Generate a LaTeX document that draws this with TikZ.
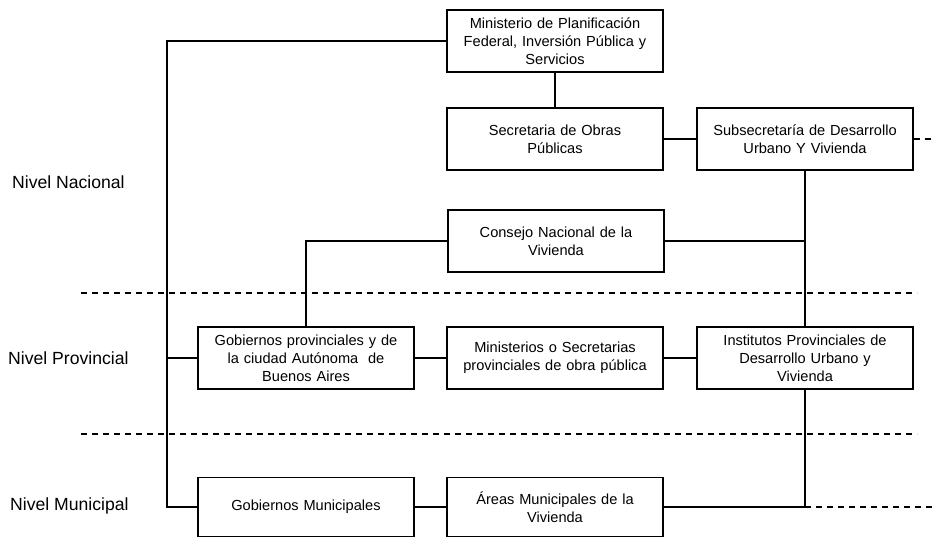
\documentclass[tikz,border=0pt]{standalone}
\usepackage{fontspec}
\setmainfont{Liberation Sans}
\usepackage{tikz}
\usetikzlibrary{positioning,calc}
\tikzset{box/.style={draw, line width=1.4pt, minimum width=216pt, minimum height=62pt, inner sep=2pt, align=center, text width=210pt, font=\fontsize{14.6pt}{18pt}\selectfont}}
\tikzset{level/.style={anchor=west, inner sep=0pt, font=\fontsize{17.6pt}{20pt}\selectfont}}
\tikzset{link/.style={line width=1.4pt}}
\tikzset{sep/.style={line width=1.3pt, dash pattern=on 6pt off 5pt}}

\begin{document}
\begin{tikzpicture}[x=1pt,y=-1pt]
\useasboundingbox (0,0) rectangle (933,538);
%niveles
\node[level] (nnac) at (12,182){Nivel Nacional};
\node[level] (nprov) at (8,358){Nivel Provincial};
\node[level] (nmun) at (10,506){Nivel Municipal};
%nivel nacional
\node[box] (minis) at (555,41){Ministerio de Planificación\\Federal, Inversión Pública y\\Servicios};
\node[box] (secobras) at (555,139){Secretaria de Obras\\Públicas};
\node[box] (subsec) at (805,139){Subsecretaría de Desarrollo\\Urbano Y Vivienda};
\node[box] (consejo) at (556,241){Consejo Nacional de la\\Vivienda};
%nivel provincial
\node[box] (gobprov) at (306,358){Gobiernos provinciales y de\\la ciudad Autónoma\ \ de\\Buenos Aires};
\node[box] (minprov) at (555,358){Ministerios o Secretarias\\provinciales de obra pública};
\node[box] (inst) at (805,358){Institutos Provinciales de\\Desarrollo Urbano y\\Vivienda};
%nivel municipal
\node[box, minimum height=59pt] (gobmun) at (306,507){Gobiernos Municipales};
\node[box, minimum height=59pt] (areas) at (555,507){Áreas Municipales de la\\Vivienda};

\coordinate (ltop) at (167,41);
\coordinate (lbot) at (167,507);
\coordinate (rbot) at (805,507);
\coordinate (subend) at (933,139);
\coordinate (munend) at (933,507);
\coordinate (d1a) at (81,293);
\coordinate (d1b) at (917,293);
\coordinate (d2a) at (81,434);
\coordinate (d2b) at (917,434);

\draw[sep] (d1a)--(d1b);
\draw[sep] (d2a)--(d2b);

\draw[link] (minis.west)--(ltop)--(lbot)--(gobmun.west);
\draw[link] (gobprov.west)--(gobprov.west -| ltop);
\draw[link] (minis)--(secobras);
\draw[link] (secobras)--(subsec);
\draw[sep] (subsec.east)--(subend);
\draw[link] (subsec)--(inst);
\draw[link] (inst.south)--(rbot);
\draw[link] (consejo.east)--(consejo.east -| subsec.south);
\draw[link] (consejo.west)--(consejo.west -| gobprov.north)--(gobprov.north);
\draw[link] (gobprov)--(minprov);
\draw[link] (minprov)--(inst);
\draw[link] (gobmun)--(areas);
\draw[link] (areas.east)--(rbot);
\draw[sep] (rbot)--(munend);
\end{tikzpicture}
\end{document}
